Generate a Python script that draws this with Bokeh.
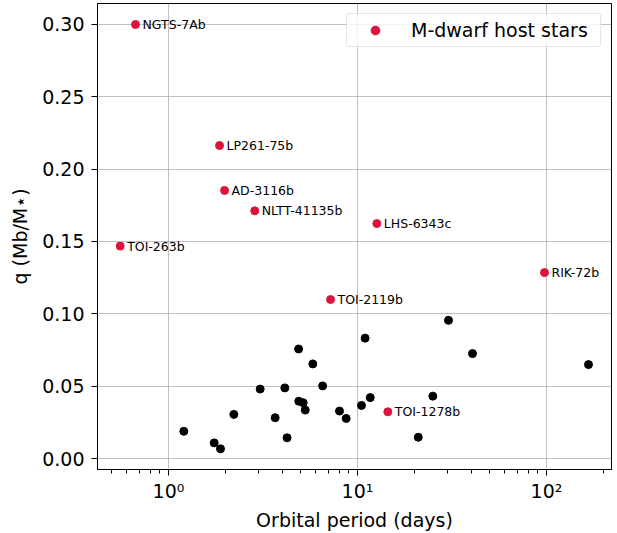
import numpy as np
from bokeh.plotting import figure
from bokeh.models import FixedTicker, CustomJSTickFormatter, Range1d, Legend
from bokeh.core.properties import value
from bokeh.embed import file_html
from bokeh.resources import INLINE

# ---------------- data ----------------
host_period = [1.205, 1.745, 1.884, 2.217, 3.055, 3.667, 4.126, 4.24, 4.88, 4.89,
               5.16, 5.29, 5.80, 6.54, 8.03, 8.71, 10.5, 10.97, 11.68, 20.96,
               25.04, 30.3, 40.6, 166.8]
host_q = [0.0188, 0.0108, 0.0067, 0.0305, 0.0480, 0.0282, 0.0488, 0.0143, 0.0757, 0.0396,
          0.0385, 0.0335, 0.0654, 0.0502, 0.0328, 0.0277, 0.0367, 0.0832, 0.0421, 0.0147,
          0.0431, 0.0955, 0.0725, 0.0649]

mdwarf_names = ["NGTS-7Ab", "LP261-75b", "AD-3116b", "NLTT-41135b", "TOI-263b",
                "LHS-6343c", "RIK-72b", "TOI-2119b", "TOI-1278b"]
mdwarf_period = [0.669, 1.862, 1.98, 2.86, 0.555, 12.66, 97.6, 7.2, 14.47]
mdwarf_q = [0.300, 0.2163, 0.1853, 0.1712, 0.1468, 0.1624, 0.1285, 0.1099, 0.0323]

x_ticks = [1, 10, 100]
x_tick_labels = ["10\u2070", "10\u00b9", "10\u00b2"]
y_ticks = [0.0, 0.05, 0.10, 0.15, 0.20, 0.25, 0.30]
y_tick_labels = ["0.00", "0.05", "0.10", "0.15", "0.20", "0.25", "0.30"]

x_label = "Orbital period (days)"
y_label = "q (Mb/M\u22c6)"
legend_label = "M-dwarf host stars"

FONT = "DejaVu Sans"
XMIN, XMAX = 0.421, 220.8
YMIN, YMAX = -0.0076, 0.3145

W, H = 617, 533
BL, BR, BT, BB = 97, 6, 3, 62

p = figure(width=W, height=H, x_axis_type="log", output_backend="svg",
           toolbar_location=None,
           x_range=Range1d(XMIN, XMAX), y_range=Range1d(YMIN, YMAX),
           min_border_left=BL, min_border_right=BR,
           min_border_top=BT, min_border_bottom=BB)
p.background_fill_color = "white"
p.border_fill_color = "white"
p.outline_line_color = "black"
p.outline_line_width = 1

# grids
for g in (p.xgrid, p.ygrid):
    g.grid_line_color = "#b0b0b0"
    g.grid_line_width = 1
    g.grid_line_alpha = 0.8

# x axis
minor = [m * 10.0 ** k for k in (-1, 0, 1, 2) for m in range(2, 10)]
p.xaxis.ticker = FixedTicker(ticks=x_ticks, minor_ticks=minor)
p.xaxis.formatter = CustomJSTickFormatter(
    args=dict(tvals=x_ticks, tlabs=x_tick_labels),
    code="for (let i=0;i<tvals.length;i++){ if (Math.abs(tvals[i]-tick) < 1e-9*Math.max(1,tvals[i])) return tlabs[i]; } return '';")
p.xaxis.axis_label = x_label

# y axis
p.yaxis.ticker = FixedTicker(ticks=y_ticks, minor_ticks=[])
p.yaxis.formatter = CustomJSTickFormatter(
    args=dict(tvals=y_ticks, tlabs=y_tick_labels),
    code="for (let i=0;i<tvals.length;i++){ if (Math.abs(tvals[i]-tick) < 1e-9) return tlabs[i]; } return '';")
p.yaxis.axis_label = y_label

for ax in (p.xaxis[0], p.yaxis[0]):
    ax.axis_line_color = "black"
    ax.axis_line_width = 1
    ax.major_tick_line_color = "black"
    ax.minor_tick_line_color = "black"
    ax.major_tick_out = 6
    ax.major_tick_in = 0
    ax.minor_tick_out = 4
    ax.minor_tick_in = 0
    ax.major_label_text_font = FONT
    ax.major_label_text_font_size = "19px"
    ax.major_label_text_color = "black"
    ax.axis_label_text_font = FONT
    ax.axis_label_text_font_size = "19px"
    ax.axis_label_text_font_style = "normal"
    ax.axis_label_text_color = "black"
p.xaxis.major_label_standoff = 4
p.xaxis.axis_label_standoff = 4
p.yaxis.major_label_standoff = 7
p.yaxis.axis_label_standoff = 8

# data
p.scatter(host_period, host_q, size=8, color="black", line_color="black")
p.scatter(mdwarf_period, mdwarf_q, size=8, color="#dc143c", line_color="#dc143c",
          legend_label=legend_label)
p.text(x=mdwarf_period, y=mdwarf_q, text=mdwarf_names, x_offset=7,
       text_baseline="middle", text_align="left",
       text_font=value(FONT), text_font_size=value("12.5px"), text_color="black")

# legend
lg = p.legend[0]
lg.location = "top_right"
lg.margin = 10
lg.padding = 5
lg.glyph_width = 46
lg.glyph_height = 22
lg.label_standoff = 13
lg.label_width = 184
lg.label_text_font = FONT
lg.label_text_font_size = "19px"
lg.label_text_color = "black"
lg.label_height = 22
lg.border_line_color = "#cccccc"
lg.border_line_width = 1
lg.background_fill_alpha = 0.8
if "border_radius" in Legend.properties():
    lg.border_radius = 3

open("out.html", "w").write(file_html(p, INLINE))
